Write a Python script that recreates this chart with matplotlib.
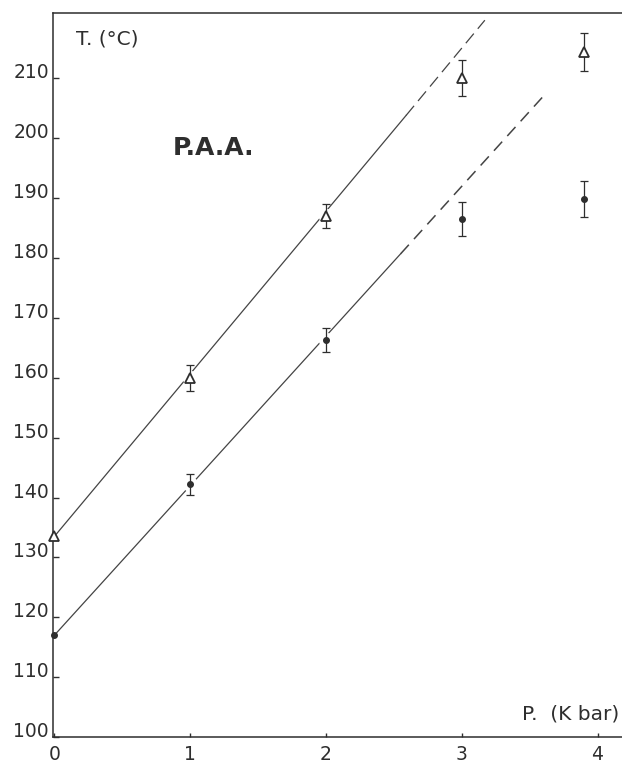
import matplotlib
matplotlib.use('Agg')
import matplotlib.pyplot as plt

# data
pressure = [0, 1, 2, 3, 3.9]          # kbar
t_triangle = [133.5, 160.0, 187.0, 210.0, 214.4]
t_triangle_err = [0, 2.2, 2.0, 3.0, 3.1]
t_dot = [117.0, 142.2, 166.3, 186.5, 189.9]
t_dot_err = [0, 1.7, 2.0, 2.8, 3.0]

# fitted lines (solid part, then dashed extrapolation)
upper_solid_p = [0, 2.59]
upper_solid_t = [133.5, 203.8]
upper_dash_p = [2.59, 3.17]
upper_dash_t = [203.8, 219.7]
lower_solid_p = [0, 2.55]
lower_solid_t = [117.0, 180.7]
lower_dash_p = [2.55, 3.62]
lower_dash_t = [180.7, 207.5]

x_ticks = [0, 1, 2, 3, 4]
y_ticks = list(range(100, 220, 10))

ink = '#2e2e2e'
line_col = '#444444'

fig = plt.figure(figsize=(6.22, 7.67), dpi=100)
ax = fig.add_axes([0.0852, 0.039, 0.9148, 0.944])

ax.plot(upper_solid_p, upper_solid_t, color=line_col, lw=0.9, zorder=2)
ax.plot(upper_dash_p, upper_dash_t, color=line_col, lw=0.9, dashes=(10, 5), zorder=2)
ax.plot(lower_solid_p, lower_solid_t, color=line_col, lw=0.9, zorder=2)
ax.plot(lower_dash_p, lower_dash_t, color=line_col, lw=1.1, dashes=(8, 5), zorder=2)

# small breaks in the lines around the measured points
ax.plot(pressure[1:3], t_triangle[1:3], 'o', ms=11, color='white', mec='none', zorder=3)
ax.plot(pressure[1:3], t_dot[1:3], 'o', ms=11, color='white', mec='none', zorder=3)

ax.errorbar(pressure[1:], t_triangle[1:], yerr=t_triangle_err[1:], fmt='none',
            ecolor=ink, elinewidth=0.9, capsize=2.8, capthick=0.9, zorder=4)
ax.errorbar(pressure[1:], t_dot[1:], yerr=t_dot_err[1:], fmt='none',
            ecolor=ink, elinewidth=0.9, capsize=2.8, capthick=0.9, zorder=4)
ax.plot(pressure, t_triangle, '^', ms=6.5, mfc='white', mec=ink, mew=1.3,
        zorder=5, clip_on=False)
ax.plot(pressure, t_dot, 'o', ms=4, color=ink, zorder=5, clip_on=False)

ax.set_xlim(-0.01, 4.18)
ax.set_ylim(100, 220.9)
ax.set_xticks(x_ticks)
ax.set_yticks(y_ticks)
ax.set_yticklabels([str(v) for v in y_ticks])

for side in ['left', 'bottom', 'top']:
    ax.spines[side].set_color(ink)
    ax.spines[side].set_linewidth(1.1)
ax.spines['right'].set_visible(False)

ax.tick_params(axis='both', direction='in', color=ink, labelcolor=ink,
               labelsize=13.5, width=1.0)
ax.tick_params(axis='y', length=4, pad=3.0)
ax.tick_params(axis='x', length=3, pad=6)
for lbl in ax.get_yticklabels():
    lbl.set_va('baseline')

ax.text(0.16, 216.5, 'T. (°C)', fontsize=14.5, color=ink, va='center', ha='left')
ax.text(4.16, 103.8, 'P.  (K bar)', fontsize=14.5, color=ink, va='center', ha='right')
ax.text(1.17, 198.3, 'P.A.A.', fontsize=18, fontweight='bold', color=ink,
        va='center', ha='center')

fig.savefig('out.png', dpi=100)
